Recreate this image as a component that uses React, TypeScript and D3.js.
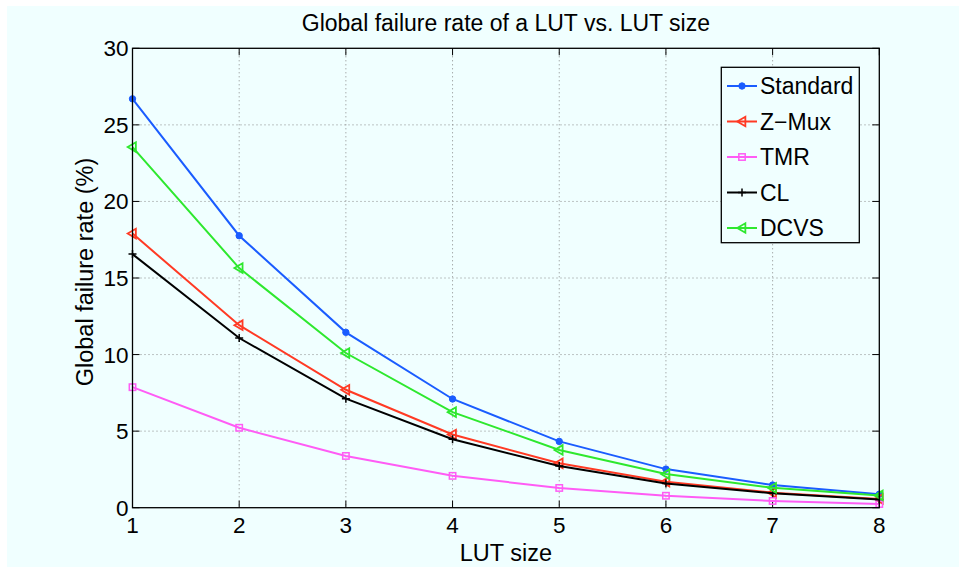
import React from "react";
import * as d3 from "d3";

const lutSizes = [1, 2, 3, 4, 5, 6, 7, 8];
const standard = [26.7, 17.76, 11.45, 7.1, 4.33, 2.52, 1.48, 0.88];
const zmux = [17.9, 11.92, 7.7, 4.78, 2.9, 1.7, 0.98, 0.57];
const tmr = [7.87, 5.22, 3.38, 2.08, 1.29, 0.78, 0.44, 0.24];
const cl = [16.56, 11.08, 7.12, 4.47, 2.72, 1.58, 0.94, 0.54];
const dcvs = [23.55, 15.65, 10.1, 6.24, 3.77, 2.2, 1.3, 0.8];
const yTicks = [0, 5, 10, 15, 20, 25, 30];
const seriesNames = ["Standard", "Z\u2212Mux", "TMR", "CL", "DCVS"];
const seriesValues = [standard, zmux, tmr, cl, dcvs];
const seriesColors = ["#1a5cff", "#ff3a24", "#ff5cf5", "#000000", "#2ee82e"];
const seriesMarkers = ["dot", "tri", "square", "plus", "tri"];

const W = 959;
const H = 567;
const L = 132.5, R = 879.3, T = 48.3, B = 507.7;
const FONT = "'Liberation Sans', Arial, Helvetica, sans-serif";

function Marker({ kind, x, y, color }: { kind: string; x: number; y: number; color: string }) {
  if (kind === "dot") return <circle cx={x} cy={y} r={3.2} fill={color} stroke={color} />;
  if (kind === "tri") {
    const s = 4.8;
    return (
      <path
        d={`M${x - s},${y} L${x + s * 0.7},${y - s} L${x + s * 0.7},${y + s} Z`}
        fill="none"
        stroke={color}
        strokeWidth={1.8}
      />
    );
  }
  if (kind === "square") {
    return <rect x={x - 3.2} y={y - 3.2} width={6.4} height={6.4} fill="none" stroke={color} strokeWidth={1.5} />;
  }
  return (
    <path d={`M${x - 4},${y} H${x + 4} M${x},${y - 4} V${y + 4}`} stroke={color} strokeWidth={1.5} />
  );
}

export default function App() {
  const x = d3.scaleLinear().domain([1, 8]).range([L, R]);
  const y = d3.scaleLinear().domain([0, 30]).range([B, T]);
  const line = d3
    .line<number>()
    .x((_, i) => x(lutSizes[i]))
    .y((d) => y(d));

  const legX = 721.3, legY = 67.3, legW = 138, legH = 175.4;
  const rowY = (i: number) => 86 + i * 35.5;

  return (
    <div style={{ position: "absolute", left: 0, top: 0 }}>
      <svg width={W} height={H} style={{ display: "block" }} fontFamily={FONT}>
        <rect x={0} y={0} width={W} height={H} fill="#ffffff" />
        <rect x={7} y={6} width={W - 7} height={H - 6} fill="#f0ffff" />
        {/* grid */}
        {lutSizes.slice(1, -1).map((v) => (
          <line key={"gx" + v} x1={x(v)} x2={x(v)} y1={T} y2={B} stroke="#888" strokeWidth={1} strokeDasharray="1,3" />
        ))}
        {yTicks.slice(1, -1).map((v) => (
          <line key={"gy" + v} x1={L} x2={R} y1={y(v)} y2={y(v)} stroke="#888" strokeWidth={1} strokeDasharray="1,3" />
        ))}
        {/* ticks */}
        {lutSizes.map((v) => (
          <g key={"tx" + v}>
            <line x1={x(v)} x2={x(v)} y1={B} y2={B - 7} stroke="#000" />
            <line x1={x(v)} x2={x(v)} y1={T} y2={T + 7} stroke="#000" />
            <text x={x(v)} y={B + 25} fontSize={22.5} textAnchor="middle" fill="#000">
              {v}
            </text>
          </g>
        ))}
        {yTicks.map((v) => (
          <g key={"ty" + v}>
            <line x1={L} x2={L + 7} y1={y(v)} y2={y(v)} stroke="#000" />
            <line x1={R} x2={R - 7} y1={y(v)} y2={y(v)} stroke="#000" />
            <text x={L - 4} y={y(v) + 8} fontSize={22.5} textAnchor="end" fill="#000">
              {v}
            </text>
          </g>
        ))}
        {/* series */}
        {seriesValues.map((vals, si) => (
          <g key={"s" + si}>
            <path d={line(vals) || ""} fill="none" stroke={seriesColors[si]} strokeWidth={2} />
            {vals.map((v, i) => (
              <Marker key={i} kind={seriesMarkers[si]} x={x(lutSizes[i])} y={y(v)} color={seriesColors[si]} />
            ))}
          </g>
        ))}
        {/* box */}
        <rect x={L} y={T} width={R - L} height={B - T} fill="none" stroke="#000" strokeWidth={1.3} />
        {/* legend */}
        <rect x={legX} y={legY} width={legW} height={legH} fill="#f0ffff" stroke="#000" strokeWidth={1.3} />
        {seriesNames.map((n, i) => (
          <g key={"l" + i}>
            <line x1={727} x2={757} y1={rowY(i)} y2={rowY(i)} stroke={seriesColors[i]} strokeWidth={2} />
            <Marker kind={seriesMarkers[i]} x={742} y={rowY(i)} color={seriesColors[i]} />
            <text x={760} y={rowY(i) + 8} fontSize={23} fill="#000">
              {n}
            </text>
          </g>
        ))}
        {/* titles */}
        <text x={(L + R) / 2} y={30.5} fontSize={23} textAnchor="middle" fill="#000">
          Global failure rate of a LUT vs. LUT size
        </text>
        <text x={(L + R) / 2} y={561} fontSize={23.5} textAnchor="middle" fill="#000">
          LUT size
        </text>
        <text
          transform={`translate(93,272) rotate(-90)`}
          fontSize={23.5}
          textAnchor="middle"
          fill="#000"
        >
          Global failure rate (%)
        </text>
      </svg>
    </div>
  );
}
